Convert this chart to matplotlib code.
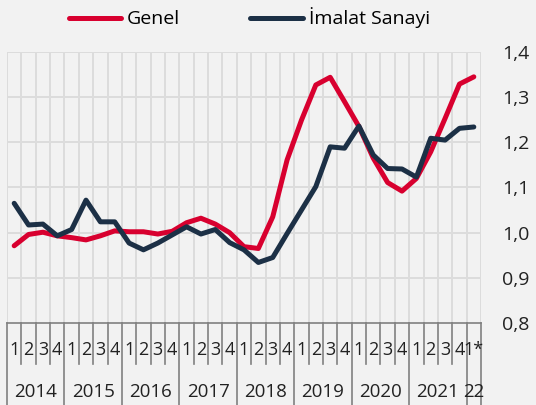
import matplotlib
matplotlib.use("Agg")
import matplotlib.pyplot as plt
from matplotlib.lines import Line2D
import matplotlib.transforms as mtransforms

plt.rcParams['font.family'] = ['Open Sans', 'DejaVu Sans']

quarters = ["1", "2", "3", "4"] * 8 + ["1*"]
years = ["2014", "2015", "2016", "2017", "2018", "2019", "2020", "2021", "22"]
year_counts = [4, 4, 4, 4, 4, 4, 4, 4, 1]

genel = [0.971, 0.996, 1.001, 0.993, 0.989, 0.984, 0.993, 1.004, 1.002, 1.002, 0.997,
         1.003, 1.022, 1.032, 1.019, 1.000, 0.969, 0.965, 1.035, 1.161, 1.249, 1.327,
         1.344, 1.290, 1.235, 1.165, 1.111, 1.092, 1.120, 1.179, 1.253, 1.329, 1.345]
imalat = [1.065, 1.017, 1.019, 0.993, 1.007, 1.072, 1.024, 1.024, 0.977, 0.962, 0.977,
          0.995, 1.013, 0.997, 1.007, 0.978, 0.962, 0.934, 0.945, 0.998, 1.050, 1.102,
          1.190, 1.187, 1.236, 1.172, 1.142, 1.141, 1.123, 1.209, 1.205, 1.231, 1.234]
yticks = [0.8, 0.9, 1.0, 1.1, 1.2, 1.3, 1.4]
ytick_labels = ["0,8", "0,9", "1,0", "1,1", "1,2", "1,3", "1,4"]

W, H = 536, 405
bg = '#f2f2f2'
red = '#d8002f'
dark = '#1c3046'
grid_c = '#dcdcdc'
sep_c = '#808080'
txt_c = '#222222'
fs = 14
fs_q = 13
fs_y = 13.5

fig = plt.figure(figsize=(W / 100, H / 100), dpi=100, facecolor=bg)
left, right, top, bottom = 7, 481, 52, 323
ax = fig.add_axes([left / W, 1 - bottom / H, (right - left) / W, (bottom - top) / H])
ax.set_facecolor(bg)

n = len(genel)
xs = [i + 0.5 for i in range(n)]
ax.set_xlim(0, n)
ax.set_ylim(0.8, 1.4)

# grid
for i in range(n + 1):
    ax.axvline(i, color=grid_c, lw=1.4, zorder=1)
for y in yticks[1:]:
    ax.axhline(y, color=grid_c, lw=1.4, zorder=1)

ax.plot(xs, genel, color=red, lw=3.6, solid_capstyle='round', solid_joinstyle='round', zorder=3, label='Genel')
ax.plot(xs, imalat, color=dark, lw=3.6, solid_capstyle='round', solid_joinstyle='round', zorder=4, label='İmalat Sanayi')

for s in ['top', 'right', 'left']:
    ax.spines[s].set_visible(False)
ax.spines['bottom'].set_color(sep_c)
ax.spines['bottom'].set_linewidth(1.2)

ax.set_xticks([])
ax.yaxis.tick_right()
ax.set_yticks(yticks)
ax.set_yticklabels(ytick_labels)
ax.tick_params(axis='y', length=0, pad=15, labelsize=fs, colors=txt_c)

# category axis
trans = mtransforms.blended_transform_factory(ax.transData, ax.transAxes)
ph = bottom - top
q_depth = (364 - bottom) / ph
y_depth = (H - bottom) / ph
year_bounds = [0]
for c in year_counts:
    year_bounds.append(year_bounds[-1] + c)
for i in range(n + 1):
    d = y_depth if i in year_bounds else q_depth
    ax.add_line(Line2D([i, i], [0, -d], transform=trans, color=sep_c, lw=1.2, clip_on=False))
q_y = -(350 - bottom) / ph
for i, q in enumerate(quarters):
    ax.text(i + 0.5, q_y, q, transform=trans, ha='center', va='center', fontsize=fs_q, color=txt_c)
yr_y = -(392 - bottom) / ph
for k, yl in enumerate(years):
    cx = (year_bounds[k] + year_bounds[k + 1]) / 2
    ax.text(cx, yr_y, yl, transform=trans, ha='center', va='center', fontsize=fs_y, color=txt_c)

fig.legend(loc='center', bbox_to_anchor=(0.465, 1 - 18 / H), ncol=2, frameon=False,
           fontsize=fs, handlelength=2.7, handletextpad=0.3, columnspacing=3.6)

fig.savefig('out.png', dpi=100, facecolor=bg)
